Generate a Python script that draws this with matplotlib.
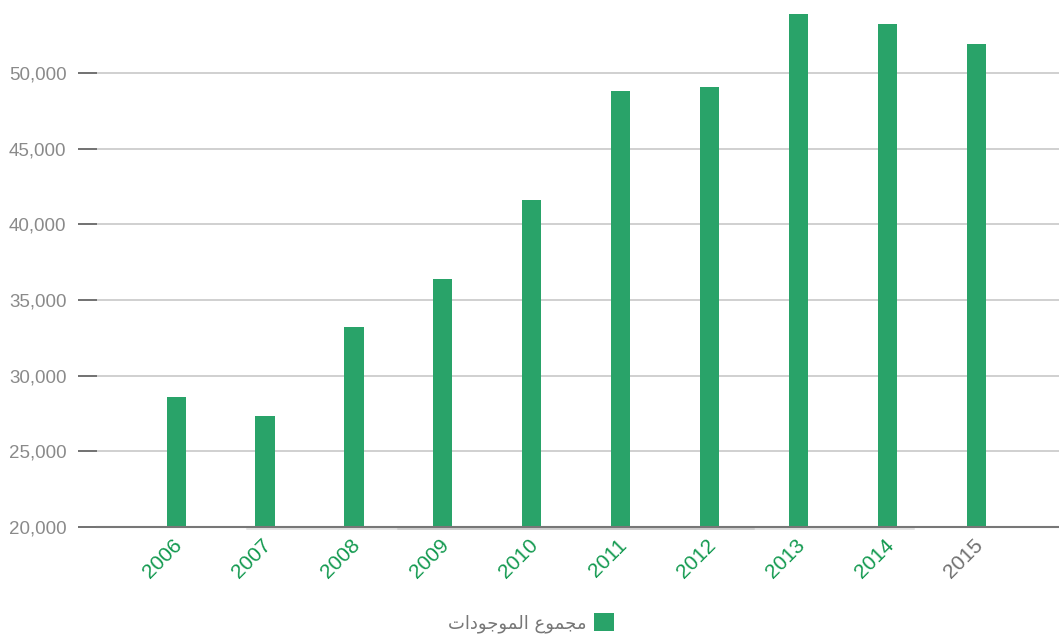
import matplotlib
matplotlib.use("Agg")
import matplotlib.pyplot as plt
import matplotlib.transforms as mtransforms
from matplotlib.ticker import FuncFormatter

years = ["2006", "2007", "2008", "2009", "2010", "2011", "2012", "2013", "2014", "2015"]
values = [28600, 27350, 33200, 36380, 41600, 48800, 49060, 53880, 53220, 51900]
label_colors = ["#12994f"] * 9 + ["#6f6f6f"]
yticks = [20000, 25000, 30000, 35000, 40000, 45000, 50000]
# "مجموع الموجودات" pre-shaped (presentation forms, visual order)
legend_label = "\uFE95\uFE8D\uFEA9\uFEEE\uFE9F\uFEEE\uFEE4\uFEDF\uFE8D \uFEC9\uFEEE\uFEE4\uFEA0\uFEE3"

bar_color = "#29a369"

plt.rcParams['font.family'] = ['Liberation Sans', 'DejaVu Sans']

fig = plt.figure(figsize=(10.59, 6.42), dpi=100)
W, H = 1059, 642
ax = fig.add_axes([97 / W, (H - 527) / H, 1 - 97 / W, 527 / H])

x = list(range(len(years)))
bars = ax.bar(x, values, width=0.215, color=bar_color, zorder=3, label=legend_label)

ax.set_xlim(-0.89, 9.93)
ax.set_ylim(20000, 54824)
ax.set_yticks(yticks)
ax.yaxis.set_major_formatter(FuncFormatter(lambda v, p: f"{int(v):,}"))
ax.grid(axis='y', color='#c8c8c8', linewidth=1.2, zorder=0)
ax.tick_params(axis='y', direction='out', length=14, width=1.3, color='#666666',
               labelsize=13.5, labelcolor='#8a8a8a', pad=8)

for s in ['top', 'right', 'left']:
    ax.spines[s].set_visible(False)
ax.spines['bottom'].set_color('#777777')
ax.spines['bottom'].set_linewidth(1.5)
ax.spines['bottom'].set_zorder(4)

# faint shadow under the baseline
shadow = mtransforms.offset_copy(ax.transData, fig=fig, x=0, y=-2.0, units='dots')
ax.plot([0.8, 8.3], [20000, 20000], color='#c4c4c4', linewidth=1.4, alpha=0.45,
        transform=shadow, clip_on=False, zorder=2, solid_capstyle='round')
ax.plot([2.5, 6.5], [20000, 20000], color='#b0b0b0', linewidth=1.4, alpha=0.4,
        transform=shadow, clip_on=False, zorder=2, solid_capstyle='round')

ax.set_xticks(x)
ax.set_xticklabels(years, rotation=45, ha='right', rotation_mode='default', fontsize=15)
ax.tick_params(axis='x', length=0, pad=6)
offset = mtransforms.ScaledTranslation(10 / 100, 0, fig.dpi_scale_trans)
for lbl, c in zip(ax.get_xticklabels(), label_colors):
    lbl.set_color(c)
    lbl.set_transform(lbl.get_transform() + offset)

leg = fig.legend(handles=[bars], labels=[legend_label], loc='center',
                 bbox_to_anchor=(531 / W, 1 - 623 / H), frameon=False,
                 markerfirst=False, handlelength=1.1, handleheight=1.15,
                 handletextpad=0.4, prop={'family': ['DejaVu Sans'], 'size': 13})
for t in leg.get_texts():
    t.set_color('#777777')

fig.savefig("out.png", dpi=100)
